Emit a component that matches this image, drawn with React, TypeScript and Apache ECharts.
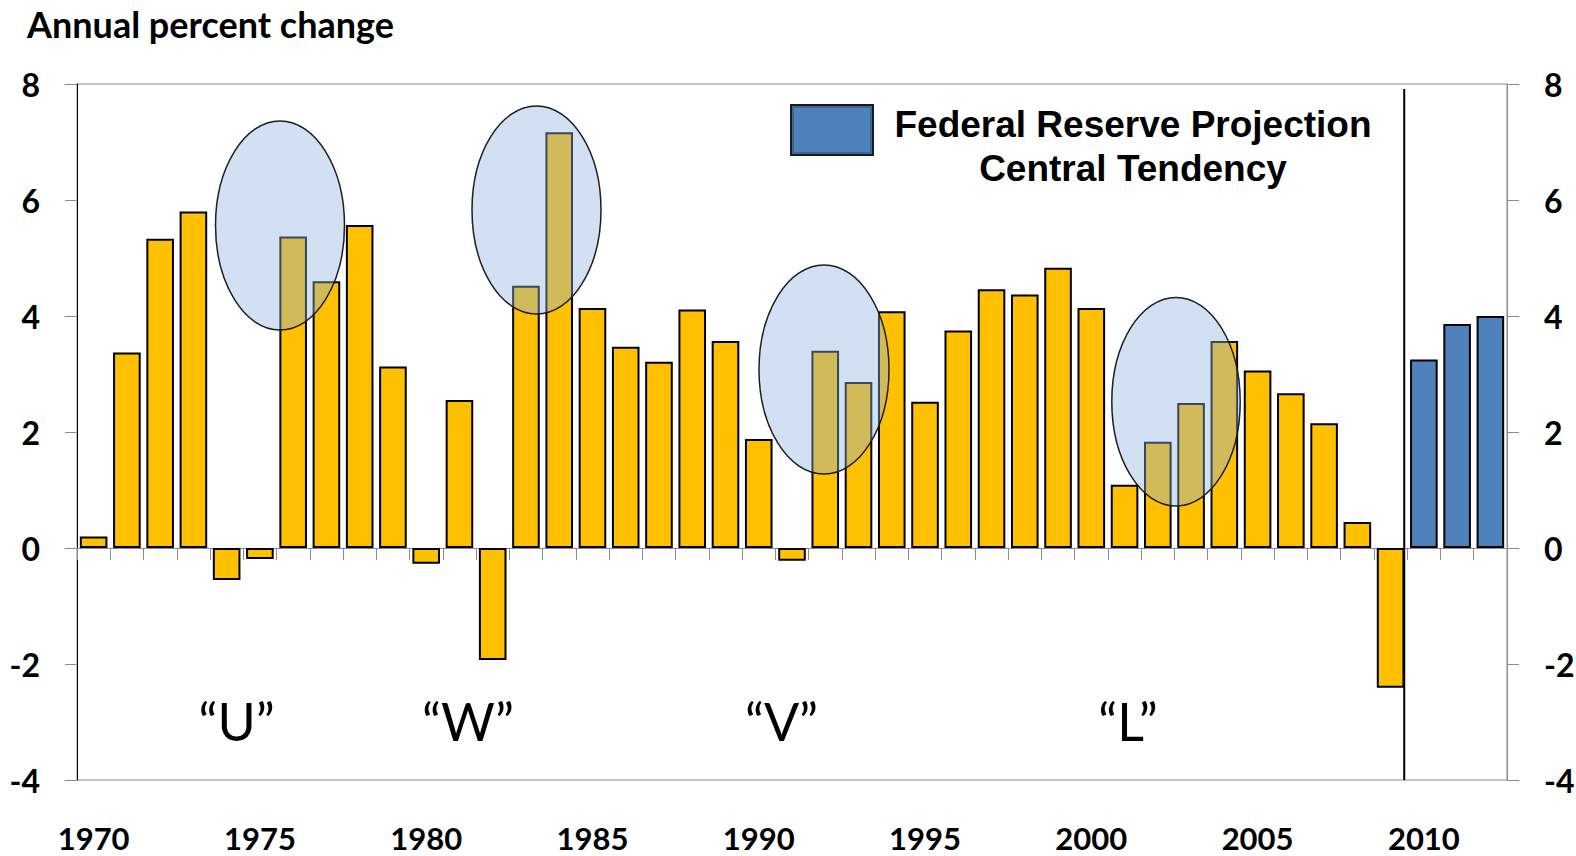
import React, { useEffect, useRef } from "react";
import * as echarts from "echarts";

// ---- Data ----
const years: string[] = [];
for (let y = 1970; y <= 2012; y++) years.push(String(y));

// Real GDP, annual percent change, 1970-2009 (actual)
const actualValues = [
  0.2, 3.37, 5.33, 5.8, -0.55, -0.19, 5.37, 4.6, 5.57, 3.13,
  -0.27, 2.55, -1.93, 4.52, 7.17, 4.14, 3.47, 3.21, 4.11, 3.57,
  1.88, -0.22, 3.4, 2.86, 4.08, 2.52, 3.75, 4.46, 4.37, 4.83,
  4.14, 1.09, 1.83, 2.5, 3.57, 3.06, 2.67, 2.15, 0.45, -2.41,
];
// Federal Reserve projection, central tendency, 2010-2012
const projectionValues = [3.25, 3.86, 4.0];

const yTicks = { min: -4, max: 8, interval: 2 };

const legendLines = ["Federal Reserve Projection", "Central Tendency"];
const recoveryShapes = ["“U”", "“W”", "“V”", "“L”"];

// ---- Layout / style (not data) ----
const W = 1576;
const H = 856;
const GRID = { left: 77, top: 84, right: 69, bottom: 76 };
const YELLOW = "#FFC000";
const BLUE = "#4F81BD";

// ellipse highlight geometry in pixels [cx, cy, rx, ry]
const ellipses = [
  [280, 225.5, 64.5, 104.5],
  [536.5, 210, 64.5, 104],
  [824, 369.5, 65, 104.5],
  [1176, 401.7, 64.2, 104.3],
];
const shapeLabelPos = [
  [236.5, 721],
  [468, 721],
  [781.5, 721],
  [1128, 721],
];

export default function App() {
  const ref = useRef<HTMLDivElement>(null);

  useEffect(() => {
    if (!ref.current) return;
    const chart = echarts.init(ref.current, undefined, { renderer: "svg" });

    const plotW = W - GRID.left - GRID.right;
    const catW = plotW / years.length;
    const splitX = GRID.left + actualValues.length * catW - 3;

    const barData = [
      ...actualValues.map((v) => ({
        value: v,
        itemStyle: { color: YELLOW },
      })),
      ...projectionValues.map((v) => ({
        value: v,
        itemStyle: { color: BLUE },
      })),
    ];

    const yAxisCommon = {
      type: "value" as const,
      min: yTicks.min,
      max: yTicks.max,
      interval: yTicks.interval,
      splitLine: { show: false },
      axisTick: {
        show: true,
        length: 12,
        inside: false,
        lineStyle: { color: "#8c8c8c", width: 1 },
      },
      axisLabel: {
        color: "#000",
        fontFamily: "Lato",
        fontWeight: "bold" as const,
        fontSize: 32,
        margin: 37,
      },
    };

    const graphics: any[] = [];
    graphics.push({
      type: "text",
      left: 27,
      top: 6,
      style: {
        text: "Annual percent change",
        fontFamily: "Lato",
        fontWeight: "bold",
        fontSize: 36,
        fill: "#000",
      },
      z: 20,
    });
    ellipses.forEach(([cx, cy, rx, ry]) => {
      graphics.push({
        type: "ellipse",
        shape: { cx, cy, rx, ry },
        style: {
          fill: "rgba(139,178,223,0.4)",
          stroke: "#1e1e1e",
          lineWidth: 1.5,
        },
        z: 50,
      });
    });
    recoveryShapes.forEach((t, i) => {
      graphics.push({
        type: "text",
        x: shapeLabelPos[i][0],
        y: shapeLabelPos[i][1],
        style: {
          text: t,
          fontFamily: "Lato",
          fontSize: 52,
          fill: "#000",
          align: "center",
          verticalAlign: "middle",
        },
        z: 50,
      });
    });
    // legend box
    graphics.push({
      type: "rect",
      shape: { x: 791, y: 105, width: 82, height: 50 },
      style: { fill: BLUE, stroke: "#1a1a1a", lineWidth: 2 },
      z: 50,
    });
    graphics.push({
      type: "rect",
      shape: { x: 793, y: 107, width: 78, height: 46 },
      style: { fill: "none", stroke: "#385D8A", lineWidth: 1.5 },
      z: 51,
    });
    legendLines.forEach((t, i) => {
      graphics.push({
        type: "text",
        x: 1133,
        y: 124 + i * 44.5,
        style: {
          text: t,
          fontFamily: "Liberation Sans",
          fontWeight: "bold",
          fontSize: 37,
          fill: "#000",
          align: "center",
          verticalAlign: "middle",
        },
        z: 50,
      });
    });
    // separator between actual and projection
    graphics.push({
      type: "line",
      shape: { x1: splitX, y1: 89, x2: splitX, y2: H - GRID.bottom },
      style: { stroke: "#000", lineWidth: 2 },
      z: 60,
    });

    chart.setOption({
      animation: false,
      backgroundColor: "#fff",
      grid: {
        left: GRID.left,
        top: GRID.top,
        right: GRID.right,
        bottom: GRID.bottom,
        containLabel: false,
        outerBoundsMode: "none",
        show: true,
        borderColor: "#8c8c8c",
        borderWidth: 1,
        backgroundColor: "transparent",
      },
      xAxis: [
        {
          type: "category",
          data: years,
          axisLine: {
            show: true,
            onZero: true,
            lineStyle: { color: "#8c8c8c", width: 1 },
          },
          axisTick: {
            show: true,
            interval: 0,
            length: 12,
            lineStyle: { color: "#8c8c8c", width: 1 },
          },
          axisLabel: { show: false },
          splitLine: { show: false },
        },
        {
          type: "category",
          data: years,
          position: "bottom",
          axisLine: { show: false, onZero: false },
          axisTick: { show: false },
          axisLabel: {
            interval: (_i: number, v: string) => Number(v) % 5 === 0,
            color: "#000",
            fontFamily: "Lato",
            fontWeight: "bold",
            fontSize: 31,
            margin: 42,
          },
          splitLine: { show: false },
        },
      ],
      yAxis: [
        {
          ...yAxisCommon,
          position: "left",
          axisLine: { show: true, lineStyle: { color: "#000", width: 1 } },
        },
        {
          ...yAxisCommon,
          position: "right",
          axisLine: { show: true, lineStyle: { color: "#8c8c8c", width: 1 } },
        },
      ],
      series: [
        {
          type: "bar",
          data: barData,
          xAxisIndex: 0,
          yAxisIndex: 0,
          barCategoryGap: "17%",
          itemStyle: { borderColor: "#000", borderWidth: 2 },
          z: 2,
        },
      ],
      graphic: graphics,
    });

    return () => chart.dispose();
  }, []);

  return (
    <div
      ref={ref}
      style={{ position: "fixed", left: 0, top: 0, width: W, height: H }}
    />
  );
}
